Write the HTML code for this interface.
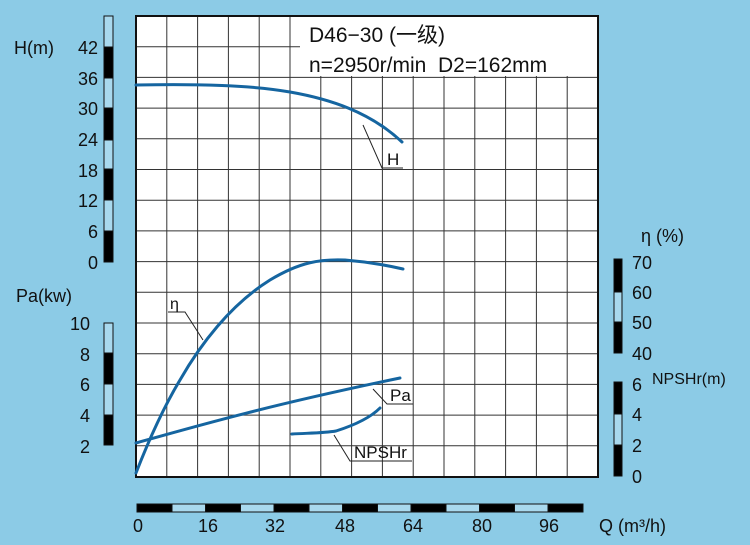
<!DOCTYPE html>
<html><head><meta charset="utf-8"><style>
html,body{margin:0;padding:0;background:#8ccbe6;}
svg{display:block;}
text{font-family:"Liberation Sans","Noto Sans CJK SC",sans-serif;fill:#111;}
</style></head><body>
<svg width="750" height="545" viewBox="0 0 750 545" xmlns="http://www.w3.org/2000/svg">
<rect width="750" height="545" fill="#8ccbe6"/>
<rect x="136" y="16" width="462" height="461" fill="#fff"/>
<g stroke="#333" stroke-width="1">
<line x1="166.8" y1="16" x2="166.8" y2="477"/><line x1="197.6" y1="16" x2="197.6" y2="477"/><line x1="228.4" y1="16" x2="228.4" y2="477"/><line x1="259.2" y1="16" x2="259.2" y2="477"/><line x1="290" y1="16" x2="290" y2="477"/><line x1="320.8" y1="16" x2="320.8" y2="477"/><line x1="351.6" y1="16" x2="351.6" y2="477"/><line x1="382.4" y1="16" x2="382.4" y2="477"/><line x1="413.2" y1="16" x2="413.2" y2="477"/><line x1="444" y1="16" x2="444" y2="477"/><line x1="474.8" y1="16" x2="474.8" y2="477"/><line x1="505.6" y1="16" x2="505.6" y2="477"/><line x1="536.4" y1="16" x2="536.4" y2="477"/><line x1="567.2" y1="16" x2="567.2" y2="477"/>
<line x1="136" y1="46.7" x2="598" y2="46.7"/><line x1="136" y1="77.4" x2="598" y2="77.4"/><line x1="136" y1="108.1" x2="598" y2="108.1"/><line x1="136" y1="138.8" x2="598" y2="138.8"/><line x1="136" y1="169.5" x2="598" y2="169.5"/><line x1="136" y1="200.2" x2="598" y2="200.2"/><line x1="136" y1="230.9" x2="598" y2="230.9"/><line x1="136" y1="261.6" x2="598" y2="261.6"/><line x1="136" y1="292.3" x2="598" y2="292.3"/><line x1="136" y1="323" x2="598" y2="323"/><line x1="136" y1="353.7" x2="598" y2="353.7"/><line x1="136" y1="384.4" x2="598" y2="384.4"/><line x1="136" y1="415.1" x2="598" y2="415.1"/><line x1="136" y1="445.8" x2="598" y2="445.8"/>
</g>
<rect x="300" y="17" width="297" height="59" fill="#fff"/>
<rect x="136" y="16" width="462" height="461" fill="none" stroke="#111" stroke-width="2"/>
<text x="309" y="42" font-size="21">D46−30 (一级)</text>
<text x="309" y="72" font-size="21" xml:space="preserve">n=2950r/min  D2=162mm</text>
<g stroke="#111" stroke-width="1">
<rect x="104" y="16" width="9" height="31" fill="#a9d9ee"/><rect x="104" y="47" width="9" height="31" fill="#000"/><rect x="104" y="78" width="9" height="30" fill="#a9d9ee"/><rect x="104" y="108" width="9" height="32" fill="#000"/><rect x="104" y="140" width="9" height="29" fill="#a9d9ee"/><rect x="104" y="169" width="9" height="31" fill="#000"/><rect x="104" y="200" width="9" height="31" fill="#a9d9ee"/><rect x="104" y="231" width="9" height="31" fill="#000"/>
<rect x="104" y="323" width="9" height="30" fill="#a9d9ee"/><rect x="104" y="353" width="9" height="31" fill="#000"/><rect x="104" y="384" width="9" height="31" fill="#a9d9ee"/><rect x="104" y="415" width="9" height="30" fill="#000"/>
<rect x="614" y="259" width="8" height="33" fill="#000"/><rect x="614" y="292" width="8" height="30" fill="#a9d9ee"/><rect x="614" y="322" width="8" height="31" fill="#000"/>
<rect x="614" y="382" width="8" height="32" fill="#000"/><rect x="614" y="414" width="8" height="31" fill="#a9d9ee"/><rect x="614" y="445" width="8" height="31" fill="#000"/>
</g>
<g font-size="18" text-anchor="end">
<text x="98" y="54">42</text><text x="98" y="85">36</text><text x="98" y="115">30</text><text x="98" y="146">24</text><text x="98" y="177">18</text><text x="98" y="207">12</text><text x="98" y="238">6</text><text x="98" y="269">0</text>
<text x="90" y="330">10</text><text x="90" y="361">8</text><text x="90" y="391">6</text><text x="90" y="422">4</text><text x="90" y="453">2</text>
</g>
<text x="14" y="54" font-size="18">H(m)</text>
<text x="16" y="302" font-size="18">Pa(kw)</text>
<g font-size="18">
<text x="632" y="269">70</text><text x="632" y="299">60</text><text x="632" y="329">50</text><text x="632" y="360">40</text>
<text x="632" y="391">6</text><text x="632" y="421">4</text><text x="632" y="452">2</text><text x="632" y="483">0</text>
</g>
<text x="641" y="242" font-size="18">η (%)</text>
<text x="652" y="384" font-size="16">NPSHr(m)</text>
<g stroke="#111" stroke-width="1">
<rect x="137" y="504" width="446" height="8" fill="#a9d9ee"/>
<rect x="137" y="504" width="35" height="8" fill="#000"/><rect x="205.5" y="504" width="35" height="8" fill="#000"/><rect x="274" y="504" width="35" height="8" fill="#000"/><rect x="342.5" y="504" width="35" height="8" fill="#000"/><rect x="411" y="504" width="35" height="8" fill="#000"/><rect x="479.5" y="504" width="35" height="8" fill="#000"/><rect x="548" y="504" width="35" height="8" fill="#000"/>
</g>
<g font-size="18" text-anchor="middle">
<text x="138" y="532">0</text><text x="208" y="532">16</text><text x="275" y="532">32</text><text x="345" y="532">48</text><text x="413" y="532">64</text><text x="482" y="532">80</text><text x="549" y="532">96</text>
</g>
<text x="599" y="532" font-size="18">Q (m³/h)</text>
<g fill="none" stroke="#1565a0" stroke-width="3" stroke-linecap="round">
<path d="M136,85 C200,84 250,85 290,92 C330,99 370,112 402,142"/>
<path d="M136,473 C150,437 165,405 180,380 C200,345 230,305 270,280 C300,262 320,259 345,260 C370,262 390,266 403,269"/>
<path d="M136,443 C200,425 270,405 400,378"/>
<path d="M292,434 C310,433 325,433 336,431 C355,425 370,418 380,408"/>
</g>
<g fill="none" stroke="#222" stroke-width="1">
<path d="M363,125 L382,168 L403,168"/>
<path d="M168,312 L185,312 L203,340"/>
<path d="M373,389 L387,404 L413,404"/>
<path d="M334,435 L350,461 L412,461"/>
</g>
<text x="387" y="165" font-size="17">H</text>
<text x="170" y="309" font-size="16">η</text>
<text x="390" y="401" font-size="17">Pa</text>
<text x="354" y="458" font-size="17">NPSHr</text>
</svg>
</body></html>
